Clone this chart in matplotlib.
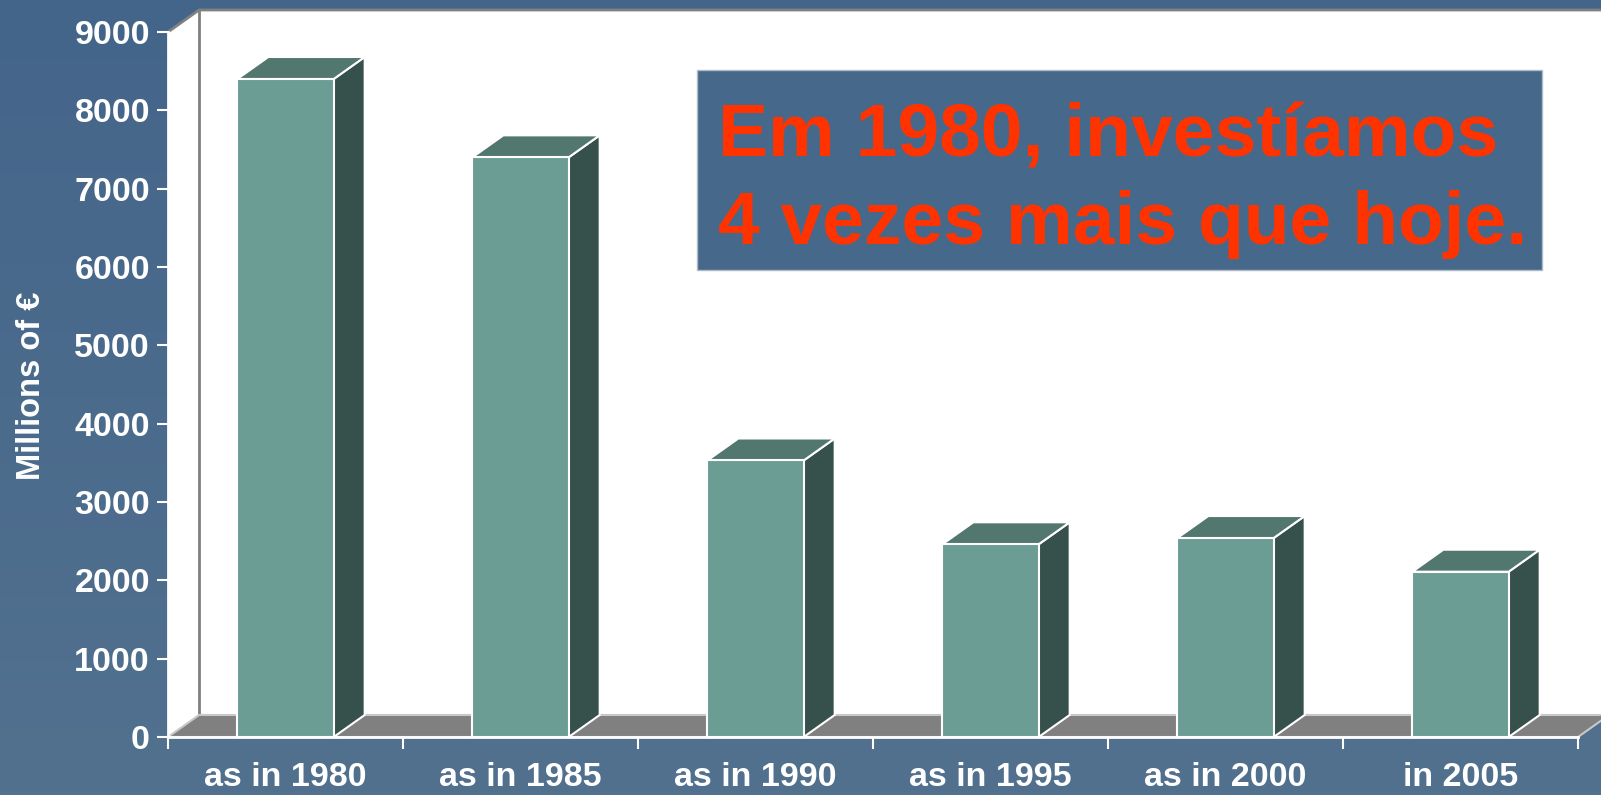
import numpy as np
import matplotlib.pyplot as plt
from matplotlib.patches import Polygon, Rectangle
from matplotlib.colors import LinearSegmentedColormap

plt.rcParams['font.family'] = ['Liberation Sans', 'DejaVu Sans']
plt.rcParams['font.weight'] = 'bold'

# data
categories = ['as in 1980', 'as in 1985', 'as in 1990', 'as in 1995', 'as in 2000', 'in 2005']
values = [8400, 7400, 3530, 2460, 2540, 2110]
yticks = [0, 1000, 2000, 3000, 4000, 5000, 6000, 7000, 8000, 9000]
ylabel = 'Millions of €'
note_lines = ['Em 1980, investíamos', '4 vezes mais que hoje.']

# colours
front_c = '#6B9D95'
top_c = '#52776F'
side_c = '#36504B'
floor_c = '#808080'
red = '#FF3300'

fig = plt.figure(figsize=(16.01, 7.95), dpi=100)

# slide background (slight vertical gradient)
bg = fig.add_axes([0, 0, 1, 1])
grad = np.linspace(0, 1, 256).reshape(-1, 1)
cmap = LinearSegmentedColormap.from_list('bg', ['#44658A', '#52718F'])
bg.imshow(grad, aspect='auto', cmap=cmap, extent=[0, 1, 0, 1])
bg.axis('off')

# front plane of the 3d chart
ax = fig.add_axes([168 / 1601, 58 / 795, 1410 / 1601, 705 / 795])
ax.set_xlim(0, len(categories))
ax.set_ylim(0, 9000)
ax.patch.set_alpha(0)
n = len(categories)
dx, dy = 0.132, 281  # depth offset in data units

# back wall + left wall
ax.add_patch(Rectangle((dx, dy), n + 0.5, 9000, facecolor='white', edgecolor='none', clip_on=False, zorder=0.5))
ax.add_patch(Polygon([(0, 0), (0, 9000), (dx, 9000 + dy), (dx, dy)], facecolor='white',
                     edgecolor='none', clip_on=False, zorder=0.6))
ax.plot([0, dx, n + 0.5], [9000, 9000 + dy, 9000 + dy], color='#808080', lw=2, clip_on=False, zorder=0.7)
ax.plot([dx, dx], [dy, 9000 + dy], color='#808080', lw=2, clip_on=False, zorder=0.7)

# floor
ax.add_patch(Polygon([(0, 0), (n, 0), (n + dx, dy), (dx, dy)], facecolor=floor_c,
                     edgecolor='#c8c8c8', lw=1.5, clip_on=False, zorder=0.8))

# bars
w = 0.41
for i, v in enumerate(values):
    x0 = i + 0.5 - w / 2
    x1 = x0 + w
    ax.add_patch(Polygon([(x1, 0), (x1 + dx, dy), (x1 + dx, v + dy), (x1, v)],
                         facecolor=side_c, edgecolor='white', lw=1.5, clip_on=False, zorder=1))
    ax.add_patch(Polygon([(x0, v), (x1, v), (x1 + dx, v + dy), (x0 + dx, v + dy)],
                         facecolor=top_c, edgecolor='white', lw=1.5, clip_on=False, zorder=1))
    ax.add_patch(Rectangle((x0, 0), w, v, facecolor=front_c, edgecolor='white', lw=1.5,
                           clip_on=False, zorder=1.1))

# axes
for s in ['top', 'right']:
    ax.spines[s].set_visible(False)
for s in ['left', 'bottom']:
    ax.spines[s].set_color('white')
    ax.spines[s].set_linewidth(2)
    ax.spines[s].set_zorder(3)

ax.set_yticks(yticks)
ax.set_yticklabels([str(t) for t in yticks])
ax.tick_params(axis='y', colors='white', length=8, width=1.5, pad=5, labelsize=24.5)

ax.set_xticks(np.arange(n + 1))
ax.set_xticklabels([])
ax.set_xticks(np.arange(n) + 0.5, minor=True)
ax.set_xticklabels(categories, minor=True)
ax.tick_params(axis='x', which='major', colors='white', length=8.6, width=1.5)
ax.tick_params(axis='x', which='minor', colors='white', length=0, pad=18, labelsize=24.5)

fig.text(31 / 1601, 0.515, ylabel, rotation=90, ha='center', va='center',
         color='white', fontsize=23.5, fontweight='bold')

# note box
fig.patches.append(Rectangle((697 / 1601, 1 - 270 / 795), 845 / 1601, 200 / 795,
                             transform=fig.transFigure, facecolor='#46688A',
                             edgecolor='#b0bac6', lw=1, zorder=5))
for line, yb in zip(note_lines, [156, 244]):
    fig.text(718 / 1601, 1 - yb / 795, line, ha='left', va='baseline', color=red,
             fontsize=54, fontweight='bold', zorder=6)

fig.savefig('out.png', dpi=100)
